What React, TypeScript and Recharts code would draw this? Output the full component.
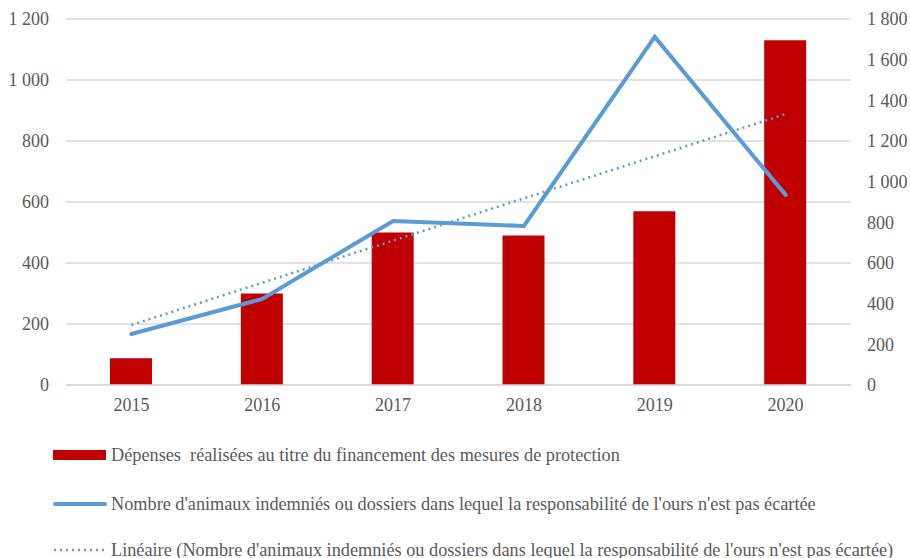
import { ComposedChart, Bar, Line, XAxis, YAxis, CartesianGrid } from 'recharts'

const years = ['2015', '2016', '2017', '2018', '2019', '2020']
const depenses = [88, 300, 500, 490, 570, 1130]
const animaux = [251, 423, 807, 782, 1712, 935]
const lineaire = [295, 503, 710, 918, 1125, 1332]
const leftTicks = [0, 200, 400, 600, 800, 1000, 1200]
const rightTicks = [0, 200, 400, 600, 800, 1000, 1200, 1400, 1600, 1800]

const data = years.map((y, i) => ({
  year: y,
  depenses: depenses[i],
  animaux: animaux[i],
  lineaire: lineaire[i],
}))

const FONT = '"Liberation Serif", "Times New Roman", serif'
const TEXT = '#595959'
const RED = '#c00000'
const BLUE = '#5b9bd5'

const fmt = (v: number) => String(v).replace(/\B(?=(\d{3})+(?!\d))/g, ' ')

const tick = { fill: TEXT, fontSize: 18, fontFamily: FONT }

const legendRows = [
  { kind: 'bar', top: 444, label: 'Dépenses  réalisées au titre du financement des mesures de protection' },
  { kind: 'line', top: 493, label: "Nombre d'animaux indemniés ou dossiers dans lequel la responsabilité de l'ours n'est pas écartée" },
  { kind: 'dot', top: 539, label: "Linéaire (Nombre d'animaux indemniés ou dossiers dans lequel la responsabilité de l'ours n'est pas écartée)" },
]

function Swatch({ kind }: { kind: string }) {
  return (
    <svg width={54} height={20} style={{ display: 'block' }}>
      {kind === 'bar' && <rect x={0} y={5} width={53} height={10} fill={RED} />}
      {kind === 'line' && (
        <line x1={2} y1={10} x2={52} y2={10} stroke={BLUE} strokeWidth={4} strokeLinecap="round" />
      )}
      {kind === 'dot' && (
        <line x1={1} y1={10} x2={53} y2={10} stroke={BLUE} strokeWidth={2.5} strokeDasharray="2 4" />
      )}
    </svg>
  )
}

export default function App() {
  return (
    <div style={{ position: 'absolute', left: 0, top: 0, width: 910, height: 558, background: '#fff' }}>
      <ComposedChart
        width={910}
        height={558}
        data={data}
        margin={{ top: 19, right: 0, bottom: 143, left: 0 }}
      >
        <CartesianGrid yAxisId="left" vertical={false} stroke="#d9d9d9" strokeWidth={1.5} />
        <XAxis
          dataKey="year"
          height={30}
          tick={tick}
          tickLine={false}
          axisLine={{ stroke: '#d9d9d9', strokeWidth: 1.5 }}
          tickSize={0}
          tickMargin={13}
        />
        <YAxis
          yAxisId="left"
          width={66}
          domain={[0, 1200]}
          ticks={leftTicks}
          tickFormatter={fmt}
          tick={tick}
          tickLine={false}
          axisLine={false}
          tickSize={0}
          tickMargin={17}
        />
        <YAxis
          yAxisId="right"
          orientation="right"
          width={59}
          domain={[0, 1800]}
          ticks={rightTicks}
          tickFormatter={fmt}
          tick={{ ...tick, textAnchor: 'start' }}
          tickLine={false}
          axisLine={false}
          tickSize={0}
          tickMargin={16}
        />
        <Bar yAxisId="left" dataKey="depenses" fill={RED} barSize={42} isAnimationActive={false} />
        <Line
          yAxisId="right"
          type="linear"
          dataKey="animaux"
          stroke={BLUE}
          strokeWidth={4}
          strokeLinecap="round"
          dot={false}
          activeDot={false}
          isAnimationActive={false}
        />
        <Line
          yAxisId="right"
          type="linear"
          dataKey="lineaire"
          stroke={BLUE}
          strokeWidth={2.5}
          strokeDasharray="2 4"
          dot={false}
          activeDot={false}
          isAnimationActive={false}
        />
      </ComposedChart>
      {legendRows.map((r) => (
        <div
          key={r.kind}
          style={{
            position: 'absolute',
            left: 53,
            top: r.top,
            display: 'flex',
            alignItems: 'center',
            fontFamily: FONT,
            fontSize: 18.25,
            color: TEXT,
            whiteSpace: 'pre',
            height: 22,
          }}
        >
          <Swatch kind={r.kind} />
          <span style={{ marginLeft: 4 }}>{r.label}</span>
        </div>
      ))}
    </div>
  )
}
